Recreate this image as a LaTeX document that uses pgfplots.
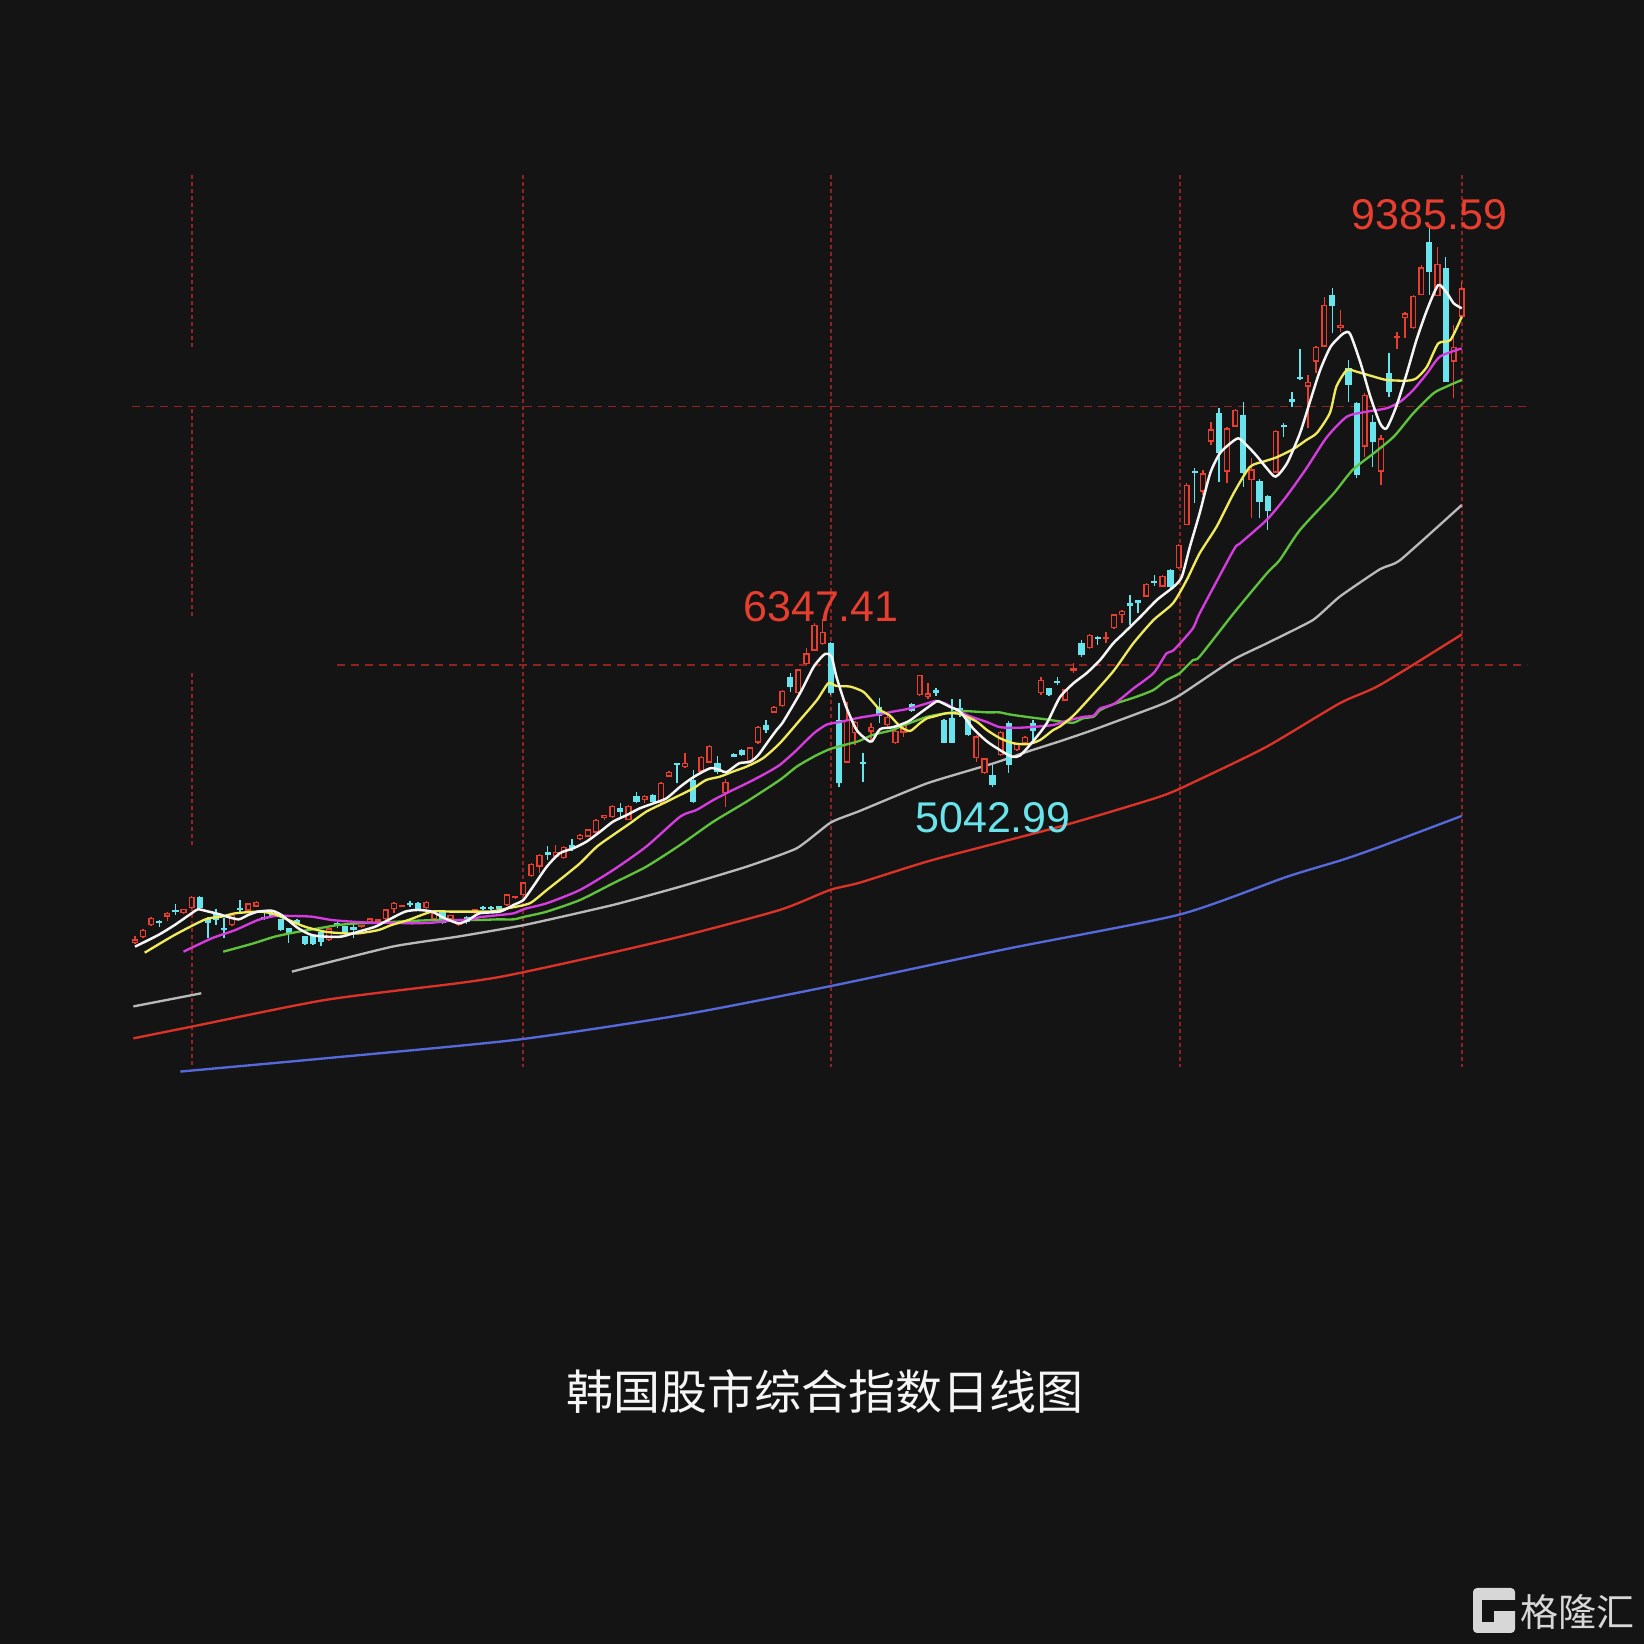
\documentclass[border=0pt]{standalone}
\usepackage{pgfplots}
\pgfplotsset{compat=1.18}
\usepackage{pgfplotstable}
\usepackage{fontspec}
\setmainfont{Liberation Sans}
\newfontfamily\cjk{Noto Sans CJK SC}
\definecolor{bg}{RGB}{20,20,20}
\definecolor{upred}{RGB}{232,62,48}
\definecolor{dncyan}{RGB}{106,228,236}
\definecolor{mawhite}{RGB}{245,245,245}
\definecolor{mayellow}{RGB}{240,235,90}
\definecolor{mamag}{RGB}{215,60,225}
\definecolor{magreen}{RGB}{95,195,60}
\definecolor{magray}{RGB}{185,185,185}
\definecolor{mared}{RGB}{220,50,40}
\definecolor{mablue}{RGB}{85,105,220}
\definecolor{gridc}{RGB}{145,34,34}
\definecolor{logoc}{RGB}{215,215,215}

\pgfplotstableread{
i lo hi bb bt
0 3827 3889 3832 3863
1 3873 3940 3878 3935
2 3969 4039 3974 4031
4 4008 4075 4039 4070
6 4058 4102 4065 4098
7 4096 4202 4103 4194
12 3966 4058 3974 4052
14 4080 4148 4085 4143
15 4112 4160 4117 4155
24 3852 3952 3858 3948
28 3950 3978 3956 3974
29 3995 4030 4000 4026
30 3995 4022 4000 4018
31 4013 4100 4018 4096
32 4065 4155 4096 4148
33 4112 4132 4117 4129
36 4100 4160 4103 4155
37 4013 4075 4018 4070
39 4015 4055 4018 4052
40 3965 4000 3974 3992
42 4062 4098 4065 4096
46 4125 4218 4129 4212
47 4176 4203 4181 4199
48 4200 4310 4204 4305
49 4350 4455 4355 4448
50 4381 4523 4427 4518
52 4500 4596 4505 4544
53 4488 4588 4492 4583
55 4636 4678 4640 4673
56 4655 4722 4660 4717
57 4686 4795 4691 4790
58 4790 4832 4803 4828
59 4805 4902 4810 4898
61 4786 4902 4790 4898
63 4919 4980 4945 4976
65 4915 5084 4919 5079
66 5122 5170 5126 5165
68 5195 5307 5199 5235
70 5160 5285 5165 5280
71 5230 5368 5235 5364
73 4888 5105 4997 5087
76 5240 5358 5243 5354
77 5380 5518 5390 5514
79 5618 5675 5623 5670
80 5670 5798 5675 5794
82 5768 5963 5773 5959
83 5995 6122 6001 6084
84 6100 6320 6104 6304
85 6150 6347.41 6156 6252
88 5230 5708 5235 5566
89 5372 5560 5463 5553
91 5398 5540 5475 5514
93 5514 5631 5527 5590
94 5380 5498 5385 5480
95 5437 5545 5468 5535
97 5755 5918 5760 5915
98 5726 5851 5747 5773
104 5242 5449 5268 5440
105 5148 5272 5152 5268
107 5290 5480 5294 5475
109 5328 5390 5333 5380
110 5380 5445 5385 5437
112 5760 5902 5773 5876
115 5712 5808 5716 5804
116 5928 6006 5949 5967
118 6118 6230 6122 6226
120 6161 6252 6192 6213
121 6274 6390 6278 6386
122 6316 6420 6381 6415
125 6520 6626 6524 6622
127 6597 6688 6601 6684
129 6740 6930 6743 6925
130 7076 7409 7080 7390
132 7313 7507 7339 7481
133 7701 7882 7727 7823
135 7403 7843 7494 7830
136 7838 7978 7843 7973
138 7132 7600 7429 7512
141 7480 7816 7486 7812
145 7830 8244 8154 8193
146 8263 8468 8348 8464
147 8460 8853 8464 8788
149 8581 8749 8607 8633
152 7610 8102 7688 8089
154 7390 7779 7494 7753
156 8444 8581 8529 8547
157 8529 8736 8685 8723
158 8602 8862 8607 8858
159 8862 9099 8866 9080
161 8854 9241 8858 9106
163 8063 8633 8348 8464
164 8693 8969 8697 8917
}\upT

\pgfplotstableread{
i lo hi bb bt
3 3956 4013 3992 4005
5 4052 4135 4078 4091
8 4098 4202 4103 4194
9 3871 4034 3992 4026
10 3974 4096 4013 4070
11 3871 4026 3935 3948
13 4065 4168 4091 4103
16 4013 4065 4018 4039
17 4040 4075 4044 4070
18 3930 4023 3935 4018
19 3837 3950 3915 3948
20 3982 4018 3987 4013
21 3822 3892 3827 3889
22 3820 3892 3827 3889
23 3811 3935 3845 3922
25 3948 4000 3966 3987
26 3910 3970 3915 3966
27 3871 3974 3935 3956
34 4117 4163 4129 4148
35 4090 4150 4096 4148
38 3982 4080 3987 4078
41 3982 4042 4000 4039
43 4094 4120 4096 4117
44 4094 4120 4096 4117
45 4094 4124 4096 4122
51 4479 4588 4518 4544
54 4552 4640 4570 4596
60 4816 4919 4854 4880
62 4919 5010 4932 4976
64 4928 4988 4932 4984
67 5074 5235 5217 5230
69 4919 5178 4932 5100
72 5147 5286 5165 5230
74 5276 5310 5281 5300
75 5287 5338 5292 5335
78 5463 5566 5488 5527
81 5786 5928 5820 5902
86 5760 6174 5773 6161
87 5049 5695 5074 5566
90 5087 5312 5224 5243
92 5540 5734 5600 5665
96 5628 5698 5635 5693
99 5752 5817 5778 5800
100 5386 5570 5390 5566
101 5386 5730 5390 5585
102 5592 5726 5638 5656
103 5445 5596 5449 5592
106 5042.99 5217 5060 5139
108 5157 5558 5217 5545
111 5411 5566 5483 5545
113 5755 5817 5760 5812
114 5838 5897 5851 5871
117 6058 6187 6071 6161
119 6148 6220 6192 6213
123 6303 6536 6451 6477
124 6394 6500 6472 6498
126 6606 6692 6627 6645
128 6592 6735 6596 6731
131 7248 7520 7486 7502
134 7416 7986 7636 7947
137 7377 8037 7481 7934
139 7132 7440 7261 7423
140 7041 7310 7190 7305
142 7766 7874 7838 7856
143 7993 8115 8035 8055
144 8205 8444 8211 8226
148 8568 8917 8780 8866
150 8037 8361 8167 8296
151 7442 8035 7468 8030
153 7533 7934 7727 7882
155 8076 8418 8115 8257
160 8866 9385.59 9047 9280
162 8193 9163 8193 9073
}\dnT

\begin{document}
\begin{tikzpicture}
% background and grid, in picture pixels
\begin{scope}[x=0.3pt,y=-0.3pt,shift={(0pt,493.2pt)}]
\fill[bg] (0,0) rectangle (1644,1644);
\begin{scope}[gridc, line width=0.5pt]
\draw[dash pattern=on 2.4pt off 1.8pt] (132,406.5) -- (1527,406.5);
\draw[dash pattern=on 2.4pt off 1.8pt] (337,665) -- (1527,665);
\draw[dash pattern=on 1.2pt off 0.9pt] (191.7,175) -- (191.7,350);
\draw[dash pattern=on 1.2pt off 0.9pt] (191.7,409) -- (191.7,617);
\draw[dash pattern=on 1.2pt off 0.9pt] (191.7,673) -- (191.7,845);
\draw[dash pattern=on 1.2pt off 0.9pt] (191.7,900) -- (191.7,1067);
\draw[dash pattern=on 1.2pt off 0.9pt] (523,175) -- (523,1067);
\draw[dash pattern=on 1.2pt off 0.9pt] (831,175) -- (831,1067);
\draw[dash pattern=on 1.2pt off 0.9pt] (1180,175) -- (1180,1067);
\draw[dash pattern=on 1.2pt off 0.9pt] (1461.7,175) -- (1461.7,1067);
\end{scope}
\end{scope}

\begin{axis}[at={(0pt,0pt)}, anchor=south west, scale only axis,
  width=493.2pt, height=493.2pt,
  xmin=-16.687, xmax=186.526, ymin=-1608, ymax=11156.1,
  enlargelimits=false, hide axis, clip=false,
  every axis plot/.append style={line join=round}]

% moving averages (long ones first)
\addplot[mablue, line width=0.7pt, smooth, tension=0.4] coordinates {
(5.6,2836) (23.5,2939) (47.3,3084) (67.6,3276) (86.0,3500) (107.7,3788)
(129.1,4055) (142.3,4347) (149.2,4479) (153.9,4582) (164,4821)};
\addplot[mared, line width=0.7pt, smooth, tension=0.4] coordinates {
(-0.2,3094) (7.0,3185) (23.5,3392) (39.9,3522) (45.7,3578) (55.0,3703)
(67.4,3884) (79.7,4091) (85.9,4246) (89.6,4303) (98.6,4479) (114.3,4738)
(126.7,4971) (131.6,5105) (139.9,5359) (148.9,5695) (153.9,5838) (164,6230)};
\addplot[magray, line width=0.7pt] coordinates {(-0.2,3342) (8.2,3444)};
\addplot[magray, line width=0.7pt, smooth, tension=0.3] coordinates {
(19.4,3612) (31.8,3806) (39.9,3884) (48.2,3975) (59.1,4130) (67.4,4272)
(75.6,4427) (81.8,4570) (86.0,4770) (89.6,4860) (97.9,5074) (106.1,5229)
(110.3,5320) (114.3,5400) (118.4,5488) (126.7,5682) (129.2,5760) (135.7,6032)
(139.9,6161) (145.6,6342) (148.9,6523) (153.9,6737) (156.4,6808) (164,7235)};

% candles: wicks
\addplot[upred, line width=0.42pt, quiver={u=0, v=\thisrow{hi}-\thisrow{lo}}] table[x=i, y=lo] {\upT};
\addplot[dncyan, line width=0.42pt, quiver={u=0, v=\thisrow{hi}-\thisrow{lo}}] table[x=i, y=lo] {\dnT};
% candles: bodies
\addplot[upred, line width=1.85pt, quiver={u=0, v={max(\thisrow{bt}-\thisrow{bb},9)}}] table[x=i, y=bb] {\upT};
\addplot[bg, line width=1.0pt, quiver={u=0, v={max(\thisrow{bt}-\thisrow{bb}-22,0)}}] table[x=i, y expr=\thisrow{bb}+11] {\upT};
\addplot[dncyan, line width=1.85pt, quiver={u=0, v={max(\thisrow{bt}-\thisrow{bb},9)}}] table[x=i, y=bb] {\dnT};

% short moving averages
\addplot[magreen, line width=0.7pt, smooth, tension=0.4] coordinates {
(10.9,3767) (14.4,3827) (17.3,3884) (20.2,3922) (22.7,3948) (25.1,3974)
(27.6,3987) (30.1,3992) (32.5,4000) (35.0,4008) (37.5,4013) (40.0,4013)
(42.6,4013) (44.9,4018) (46.8,4018) (48.2,4039) (50.9,4078) (55.0,4168)
(59.1,4298) (63.2,4427) (67.4,4596) (71.5,4777) (75.6,4932) (79.7,5100)
(81.8,5204) (83.9,5281) (85.9,5340) (88.2,5380) (89.6,5405) (91.2,5450)
(93.7,5488) (94.6,5514) (97.9,5590) (100.3,5618) (102.4,5635) (105.3,5625)
(106.9,5625) (108.0,5610) (110.2,5590) (112.7,5570) (114.3,5555) (116.0,5545)
(117.2,5579) (118.5,5592) (119.3,5643) (121.0,5690) (123.5,5740) (125.9,5799)
(127.5,5876) (129.1,5928) (130.8,6032) (131.6,6058) (135.8,6394) (139.9,6704)
(141.5,6808) (144.0,7041) (148.1,7320) (150.5,7507) (153.1,7636) (155.6,7766)
(158.0,7947) (160.5,8102) (162.1,8154) (164.0,8206)};
\addplot[mamag, line width=0.7pt, smooth, tension=0.4] coordinates {
(6.0,3767) (9.5,3871) (12.4,3935) (15.2,4013) (17.3,4044) (19.4,4044)
(21.8,4039) (24.3,4013) (26.8,4000) (29.3,3992) (31.7,3992) (34.2,3987)
(36.7,3992) (39.1,4008) (41.6,4018) (42.6,4035) (44.1,4045) (46.8,4065)
(48.2,4100) (50.9,4143) (55.0,4246) (59.1,4401) (63.2,4583) (67.4,4816)
(69.4,4867) (71.5,4945) (73.5,5010) (75.6,5074) (77.6,5139) (79.7,5217)
(81.8,5333) (83.9,5462) (85.5,5530) (87.1,5550) (89.4,5582) (91.6,5605)
(93.7,5631) (95.8,5656) (98.7,5710) (99.1,5713) (100.3,5690) (101.2,5656)
(103.0,5600) (105.3,5550) (106.9,5510) (109.0,5505) (111.0,5512) (113.5,5527)
(115.2,5560) (117.2,5590) (118.5,5600) (119.3,5656) (121.0,5690) (123.4,5810)
(125.9,5930) (127.5,6083) (128.4,6109) (130.8,6280) (131.6,6394) (135.8,6886)
(136.6,6937) (139.9,7120) (142.3,7300) (144.8,7520) (147.3,7760) (149.8,7921)
(152.3,7960) (154.7,7986) (156.4,8037) (158.0,8128) (159.7,8257) (161.3,8387)
(164.0,8451)};
\addplot[mayellow, line width=0.7pt, smooth, tension=0.4] coordinates {
(1.2,3759) (4.9,3897) (8.7,4018) (10.7,4039) (12.4,4065) (15.2,4078)
(16.9,4065) (18.5,4026) (21.0,3961) (23.5,3922) (26.0,3909) (27.6,3909)
(30.1,3935) (31.7,3974) (33.8,4013) (36.7,4078) (39.1,4078) (41.6,4078)
(44.1,4080) (46.1,4104) (48.8,4143) (50.9,4246) (53.0,4350) (55.0,4453)
(57.1,4583) (59.1,4673) (61.2,4764) (63.2,4854) (65.3,4919) (67.4,4984)
(69.0,5035) (70.6,5100) (72.3,5126) (73.9,5165) (75.6,5204) (77.6,5268)
(79.7,5385) (82.2,5566) (84.3,5721) (85.7,5851) (86.7,5830) (88.4,5825)
(90.0,5786) (91.0,5720) (92.1,5644) (93.3,5600) (94.6,5514) (95.8,5480)
(97.0,5540) (97.9,5579) (98.7,5592) (100.3,5618) (102.0,5612) (104.0,5555)
(105.3,5488) (106.9,5425) (108.6,5385) (110.4,5378) (111.9,5411) (113.5,5488)
(114.3,5514) (116.0,5600) (118.5,5770) (121.0,5950) (123.4,6161) (125.9,6342)
(128.3,6472) (130.0,6653) (131.6,6860) (133.7,7067) (135.8,7326) (137.8,7530)
(139.5,7572) (141.1,7605) (143.2,7670) (144.8,7740) (146.1,7795) (147.7,7950)
(148.5,8154) (149.8,8283) (151.0,8270) (153.1,8232) (154.7,8206) (157.2,8200)
(158.4,8219) (159.7,8309) (161.1,8490) (162.6,8516) (164.0,8697)};
\addplot[mawhite, line width=0.75pt, smooth, tension=0.4] coordinates {
(0,3806) (2.9,3897) (4.9,3974) (7.0,4065) (7.8,4096) (9.1,4078) (10.3,4060)
(11.1,4044) (12.8,4018) (14.0,4052) (15.2,4078) (16.9,4085) (18.1,4052)
(20.2,3948) (21.8,3897) (23.5,3884) (25.5,3884) (27.6,3922) (29.7,3961)
(31.3,4013) (33.4,4078) (35.0,4091) (36.7,4078) (38.3,4026) (40.0,3987)
(41.2,4013) (42.6,4065) (45.1,4078) (46.8,4130) (48.0,4168) (49.2,4272)
(50.9,4427) (52.5,4531) (54.2,4570) (55.8,4621) (57.5,4699) (59.1,4777)
(60.8,4828) (62.4,4880) (64.1,4919) (65.7,4958) (67.4,5048) (69.0,5121)
(71.1,5191) (72.3,5178) (73.1,5160) (74.7,5230) (76.0,5240) (77.0,5290)
(78.1,5385) (79.3,5488) (80.1,5550) (82.2,5773) (83.9,5980) (85.3,6079)
(86.1,6058) (86.7,5902) (87.9,5670) (89.2,5488) (90.5,5411) (91.1,5400)
(92.1,5495) (93.7,5510) (95.6,5555) (97.0,5618) (98.7,5695) (99.3,5712)
(100.7,5669) (102.0,5630) (103.6,5500) (105.3,5400) (106.9,5333) (108.4,5281)
(109.4,5290) (111.0,5400) (112.7,5540) (114.3,5740) (116.0,5851) (117.6,5928)
(119.3,6032) (120.9,6160) (122.2,6239) (124.3,6368) (126.3,6497) (128.4,6601)
(129.4,6679) (130.4,6912) (131.6,7171) (132.9,7481) (134.1,7636) (135.4,7714)
(136.4,7753) (137.4,7700) (138.6,7620) (139.9,7520) (141.0,7455) (142.4,7559)
(144.0,7792) (145.3,8050) (146.5,8283) (147.8,8465) (149.4,8568) (150.2,8563)
(151.5,8335) (152.7,8076) (153.9,7869) (154.7,7830) (155.9,7999) (157.2,8257)
(158.4,8516) (159.7,8749) (161.1,8943) (162.2,8878) (163.0,8801) (164.0,8762)};
\end{axis}

% labels, title and logo, in picture pixels
\begin{scope}[x=0.3pt,y=-0.3pt,shift={(0pt,493.2pt)}]
\node[anchor=base, inner sep=0pt, text=upred, font=\fontsize{12.9}{13}\selectfont] at (1429.5,230) {9385.59};
\node[anchor=base, inner sep=0pt, text=upred, font=\fontsize{12.9}{13}\selectfont] at (821,621.5) {6347.41};
\node[anchor=base, inner sep=0pt, text=dncyan, font=\fontsize{12.9}{13}\selectfont] at (993,832.5) {5042.99};
\node[anchor=center, inner sep=0pt, text=mawhite, font=\cjk\fontsize{14.1}{15}\selectfont] at (825,1391.5) {韩国股市综合指数日线图};
% logo
\fill[logoc, rounded corners=1.2pt] (1473,1588) rectangle (1515,1633);
\fill[bg] (1482,1600) rectangle (1504,1622);
\fill[bg] (1504,1600) rectangle (1515.5,1611);
\fill[logoc] (1494,1611) rectangle (1506,1622);
\node[anchor=center, inner sep=0pt, text=logoc, font=\cjk\fontsize{11.4}{12}\selectfont] at (1577,1612) {格隆汇};
\end{scope}
\end{tikzpicture}
\end{document}
